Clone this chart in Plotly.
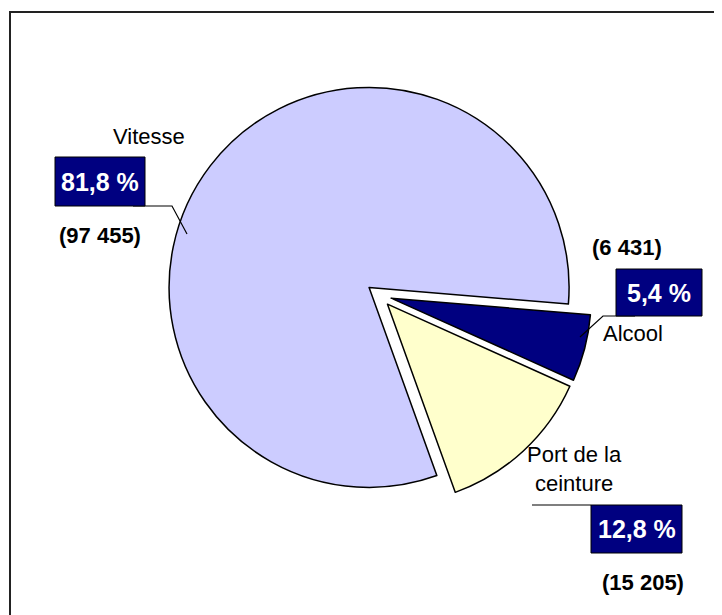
import plotly.graph_objects as go

# Infractions constatées par type
labels = ["Vitesse", "Alcool", "Port de la<br>ceinture"]
counts = [97455, 6431, 15205]
colors = ["#CCCCFF", "#000080", "#FFFFCC"]

W, H = 722, 615
OFF = 8  # page body margin seen in the screenshot


def px(x):
    return (x - OFF) / W


def py(y):
    return 1 - (y - OFF) / H


total = sum(counts)
pct_text = [f"{100 * c / total:.1f} %".replace(".", ",") for c in counts]
count_text = [f"({c:,})".replace(",", " ") for c in counts]

# placement of the labels (screen pixels): name, percent box, count, leader line
label_pos = [
    dict(name=(149, 137), box=(55, 157, 145, 206), count=(100, 235),
         line=[(133, 206), (172, 206), (187, 234)]),
    dict(name=(633, 333), box=(616, 269, 702, 316), count=(627, 247),
         line=[(635, 316), (603, 316), (580, 337)]),
    dict(name=(574, 469), box=(591, 505, 682, 553), count=(643, 582),
         line=[(532, 505), (591, 505)]),
]

# pie centre and radius in screen pixels
cx, cy, r, pull = 379, 295, 200, 0.0625
half = r * (1 + pull)

fig = go.Figure()
fig.add_trace(go.Pie(
    labels=labels,
    values=counts,
    sort=False,
    direction="clockwise",
    rotation=160.2,
    pull=[pull] * len(counts),
    marker=dict(colors=colors, line=dict(color="black", width=1.5)),
    textinfo="none",
    hoverinfo="label+value+percent",
    showlegend=False,
    domain=dict(x=[px(cx - half), px(cx + half)], y=[py(cy + half), py(cy - half)]),
))

shapes = []
annotations = []
for i, pos in enumerate(label_pos):
    x0, y0, x1, y1 = pos["box"]
    pts = pos["line"]
    path = "M " + " L ".join(f"{px(x)},{py(y)}" for x, y in pts)
    shapes.append(dict(type="path", path=path, xref="paper", yref="paper",
                       line=dict(color="black", width=1.2)))
    shapes.append(dict(type="rect", xref="paper", yref="paper",
                       x0=px(x0), x1=px(x1), y0=py(y1), y1=py(y0),
                       fillcolor="#000080", line=dict(color="black", width=1)))
    annotations.append(dict(
        text=pct_text[i], x=px((x0 + x1) / 2), y=py((y0 + y1) / 2),
        xref="paper", yref="paper", showarrow=False,
        xanchor="center", yanchor="middle",
        font=dict(family="Liberation Sans, Arial", size=25, color="white", weight="bold"),
    ))
    annotations.append(dict(
        text=labels[i], x=px(pos["name"][0]), y=py(pos["name"][1]),
        xref="paper", yref="paper", showarrow=False,
        xanchor="center", yanchor="middle", align="center",
        font=dict(family="Liberation Sans, Arial", size=22, color="black"),
    ))
    annotations.append(dict(
        text=count_text[i], x=px(pos["count"][0]), y=py(pos["count"][1]),
        xref="paper", yref="paper", showarrow=False,
        xanchor="center", yanchor="middle",
        font=dict(family="Liberation Sans, Arial", size=22, color="black", weight="bold"),
    ))

# frame (left and top edges only, as in the original)
shapes.append(dict(type="path", xref="paper", yref="paper",
                   path=f"M {px(10)},0 L {px(10)},{py(12)} L 1,{py(12)}",
                   line=dict(color="#222222", width=2)))

fig.update_layout(
    width=W, height=H,
    margin=dict(l=0, r=0, t=0, b=0),
    paper_bgcolor="white",
    plot_bgcolor="white",
    shapes=shapes,
    annotations=annotations,
)

fig.write_html("out.html")
